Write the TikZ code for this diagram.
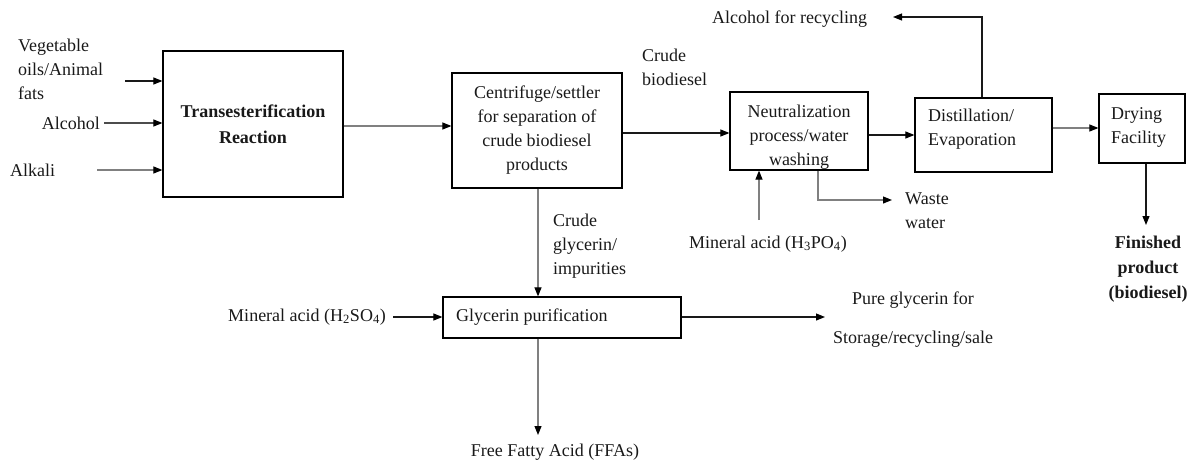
\documentclass[tikz,border=0pt]{standalone}
\usepackage{fontspec}
\setmainfont{Liberation Serif}
\usetikzlibrary{arrows.meta}
\tikzset{
  txt/.style={font=\fontsize{18}{24}\selectfont, inner sep=0pt, text=black!90},
  box/.style={draw=black, line width=1.2pt, inner sep=0pt, font=\fontsize{18}{24}\selectfont, text=black!90},
  dk/.style={draw=black!90, line width=1.1pt, -{Triangle[length=9pt,width=7pt,color=black]}},
  gr/.style={draw=black!50, line width=1.1pt, -{Triangle[length=9pt,width=7pt,color=black]}},
}
\begin{document}
\begin{tikzpicture}[x=1pt,y=-1pt]
\useasboundingbox (0,0) rectangle (1195,463);
% boxes
\node[box, minimum width=180pt, minimum height=146pt, align=center, font=\fontsize{18}{26}\selectfont\bfseries] (trans) at (253,124) {Transesterification\\Reaction};
\node[box, minimum width=170pt, minimum height=115pt, align=center] (centr) at (537,130.5) {Centrifuge/settler\\for separation of\\crude biodiesel\\products};
\node[box, minimum width=138pt, minimum height=78pt] (neut) at (799,131) {};
\node[txt, anchor=north, align=center] (neutt) at (799,105) {Neutralization\\process/water\\washing};
\node[box, minimum width=137pt, minimum height=74pt] (dist) at (983.5,135) {};
\node[txt, anchor=north west, align=left] (distt) at (928,109) {Distillation/\\Evaporation};
\node[box, minimum width=86pt, minimum height=69pt] (dry) at (1142,128.5) {};
\node[txt, anchor=north west, align=left] (dryt) at (1111,107) {Drying\\Facility};
\node[box, minimum width=238pt, minimum height=41pt] (glyc) at (562,317.5) {};
\node[txt, anchor=mid west] (glyct) at (456,319) {Glycerin purification};
% labels
\node[txt, anchor=north west, align=left] (veg) at (18,39) {Vegetable\\oils/Animal\\fats};
\node[txt, anchor=mid east] (alc) at (100,127) {Alcohol};
\node[txt, anchor=mid west] (alk) at (10,174) {Alkali};
\node[txt, anchor=north west, align=left] (cbio) at (642,49) {Crude\\biodiesel};
\node[txt, anchor=mid] (h3po4) at (768,246) {Mineral acid (H\textsubscript{3}PO\textsubscript{4})};
\node[txt, anchor=north west, align=left] (waste) at (905,193) {Waste\\water};
\node[txt, anchor=mid west] (recyc) at (712,21) {Alcohol for recycling};
\node[txt, anchor=north, align=center, font=\fontsize{18}{25}\selectfont\bfseries] (fin) at (1148,236) {Finished\\product\\(biodiesel)};
\node[txt, anchor=north west, align=left] (cgly) at (553,214) {Crude\\glycerin/\\impurities};
\node[txt, anchor=mid east] (h2so4) at (386,319) {Mineral acid (H\textsubscript{2}SO\textsubscript{4})};
\node[txt, anchor=mid] (ffa) at (555,454) {Free Fatty Acid (FFAs)};
\node[txt, anchor=north, align=center] (pure) at (913,292) {Pure glycerin for\\[15pt]Storage/recycling/sale};
% free-end coordinates
\coordinate (vegs) at (125,81);
\coordinate (alcs) at (104,123);
\coordinate (alks) at (97,170);
\coordinate (h3s) at (759,220);
\coordinate (wsc) at (818,200);
\coordinate (wse) at (892,200);
\coordinate (rcc) at (982,17);
\coordinate (rce) at (893,17);
\coordinate (fine) at (1146,225);
\coordinate (h2s) at (393,317);
\coordinate (ffae) at (538,435);
\coordinate (puree) at (825,317);
% connectors
\draw[dk] (vegs) -- (vegs -| trans.west);
\draw[gr, draw=black!70] (alcs) -- (alcs -| trans.west);
\draw[gr] (alks) -- (alks -| trans.west);
\draw[gr] (trans.east |- 0,126) -- (centr.west |- 0,126);
\draw[dk] (centr.east |- 0,133) -- (neut.west |- 0,133);
\draw[dk] (neut.east |- 0,135) -- (dist.west |- 0,135);
\draw[gr] (dist.east |- 0,128) -- (dry.west |- 0,128);
\draw[dk] (dist.north -| rcc) -- (rcc) -- (rce);
\draw[dk] (dry.south -| fine) -- (fine);
\draw[gr] (h3s) -- (h3s |- neut.south);
\draw[gr] (neut.south -| wsc) -- (wsc) -- (wse);
\draw[gr] (centr.south -| 538,0) -- (glyc.north -| 538,0);
\draw[dk] (h2s) -- (h2s -| glyc.west);
\draw[gr] (glyc.south -| ffae) -- (ffae);
\draw[dk] (glyc.east |- puree) -- (puree);
\end{tikzpicture}
\end{document}
